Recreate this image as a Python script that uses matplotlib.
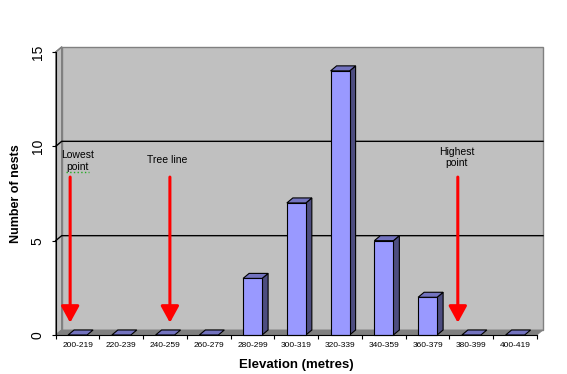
import matplotlib.pyplot as plt
from matplotlib.patches import Polygon, Rectangle

plt.rcParams['font.family'] = ['Liberation Sans', 'DejaVu Sans']

# data
categories = ['200-219', '220-239', '240-259', '260-279', '280-299', '300-319',
              '320-339', '340-359', '360-379', '380-399', '400-419']
nests = [0, 0, 0, 0, 3, 7, 14, 5, 2, 0, 0]
y_ticks = [0, 5, 10, 15]

notes = ['Lowest\npoint', 'Tree line', 'Highest\npoint']
note_x = [0.0, 2.04, 8.67]
note_y = [9.22, 9.27, 9.41]
arrow_x = [-0.17, 2.11, 8.69]
arrow_top = 8.37
arrow_tip = 0.65

fig = plt.figure(figsize=(5.67, 3.74), dpi=100)
W, H = 481.3, 283.0
ax = fig.add_axes([55.7 / 567, 39 / 374, W / 567, H / 374])
n = len(categories)
x0, x1 = -0.5, n - 0.5
ymax = 15
ax.set_xlim(x0, x1)
ax.set_ylim(0, ymax)

# 3d depth offset (6px right, 5px up) in data units
DX = 6 * (n / W)
DY = 5 * (ymax / H)

wall = '#C0C0C0'
edge_gray = '#808080'

# back wall
ax.add_patch(Rectangle((x0 + DX, DY), n, ymax, facecolor=wall,
                       edgecolor=edge_gray, lw=1, clip_on=False, zorder=0))
# side wall
ax.add_patch(Polygon([(x0, 0), (x0 + DX, DY), (x0 + DX, ymax + DY), (x0, ymax)],
                     closed=True, facecolor=wall, edgecolor=edge_gray, lw=1,
                     clip_on=False, zorder=0))
# floor
ax.add_patch(Polygon([(x0, 0), (x1, 0), (x1 + DX, DY), (x0 + DX, DY)],
                     closed=True, facecolor=edge_gray, edgecolor=edge_gray, lw=0.5,
                     clip_on=False, zorder=1))

# gridlines
for t in y_ticks[1:3]:
    ax.plot([x0, x0 + DX, x1 + DX], [t, t + DY, t + DY], color='black', lw=1,
            clip_on=False, zorder=1)
ax.plot([x0, x0 + DX], [ymax, ymax + DY], color=edge_gray, lw=1, clip_on=False, zorder=1)

# bars
w = 0.217
for i, v in enumerate(nests):
    l, r = i - w, i + w
    if v > 0:
        ax.add_patch(Polygon([(r, 0), (r + DX, DY), (r + DX, v + DY), (r, v)],
                             closed=True, facecolor='#4D4D80', edgecolor='black',
                             lw=0.8, clip_on=False, zorder=3))
        ax.add_patch(Rectangle((l, 0), 2 * w, v, facecolor='#9999FF',
                               edgecolor='black', lw=0.8, clip_on=False, zorder=3))
    ax.add_patch(Polygon([(l, v), (r, v), (r + DX, v + DY), (l + DX, v + DY)],
                         closed=True, facecolor='#7373BF', edgecolor='black',
                         lw=0.8, clip_on=False, zorder=3))

# axes / ticks
for s in ['top', 'right']:
    ax.spines[s].set_visible(False)
ax.spines['left'].set_zorder(4)
ax.spines['bottom'].set_zorder(4)
ax.set_facecolor('none')
ax.set_xticks(range(n))
ax.set_xticklabels(categories, fontsize=6)
ax.set_xticks([x0 + k for k in range(n + 1)], minor=True)
ax.tick_params(axis='x', which='major', length=0, pad=5)
ax.tick_params(axis='x', which='minor', length=3, width=0.8)
ax.set_yticks(y_ticks)
ax.set_yticklabels([str(t) for t in y_ticks], fontsize=10, rotation=90, va='center')
ax.tick_params(axis='y', length=3, width=0.8, pad=5)

ax.set_xlabel('Elevation (metres)', fontsize=9.5, fontweight='bold', labelpad=7)
ax.set_ylabel('Number of nests', fontsize=9, fontweight='bold', labelpad=6)

# annotations
for txt, tx, ty, axx in zip(notes, note_x, note_y, arrow_x):
    ax.text(tx, ty, txt, fontsize=7.5, ha='center', va='center', zorder=6)
    ax.annotate('', xy=(axx, arrow_tip), xytext=(axx, arrow_top),
                arrowprops=dict(arrowstyle='-|>,head_length=1.0,head_width=0.55',
                                color='red', lw=2.2, mutation_scale=10,
                                shrinkA=0, shrinkB=0),
                annotation_clip=False, zorder=6)
# spell-check squiggle under "point"
ax.plot([note_x[0] - 0.26, note_x[0] + 0.26], [note_y[0] - 0.6] * 2,
        color='#22AA22', lw=1, ls=':', zorder=6)

fig.savefig('out.png', dpi=100)
